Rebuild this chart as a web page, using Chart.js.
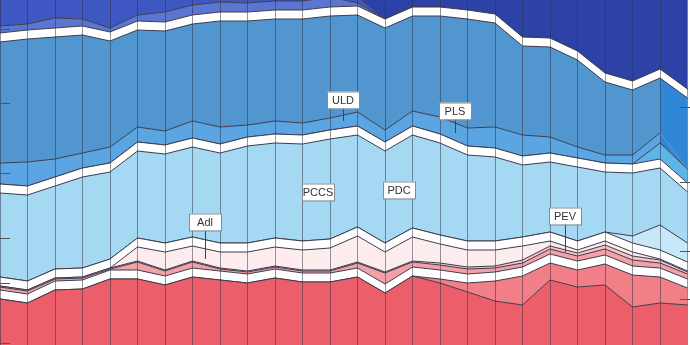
<!DOCTYPE html>
<html>
<head>
<meta charset="utf-8">
<script src="https://cdn.jsdelivr.net/npm/chart.js@4.4.1/dist/chart.umd.min.js"></script>
<style>
  html, body { margin: 0; padding: 0; background: #fff; }
  #wrap { width: 690px; height: 345px; }
</style>
</head>
<body>
<div id="wrap"><canvas id="c"></canvas></div>
<script>
// elections, left to right (evenly spaced)
const elections = [1, 2, 3, 4, 5, 6, 7, 8, 9, 10, 11, 12, 13, 14, 15, 16, 17, 18, 19, 20, 21, 22, 23, 24, 25, 26];

// stacked shares, bottom to top (the crop shows only part of the range)
const red     = [9.2, 8.4, 11.0, 11.2, 13.2, 13.2, 12.0, 13.6, 13.0, 12.4, 13.4, 12.6, 12.6, 13.6, 10.4, 13.8, 12.4, 10.6, 8.8, 8.0, 13.0, 11.6, 12.0, 7.6, 8.4, 8.0];
const salmon  = [0, 0, 0, 0, 0, 0, 0, 0, 0, 0, 0, 0, 0, 0, 0, 0, 0.8, 1.8, 4.0, 5.8, 3.4, 3.4, 4.2, 6.4, 5.2, 3.4];
const gap     = [1.8, 1.8, 1.8, 1.8, 1.8, 1.8, 1.8, 1.8, 1.8, 1.8, 1.8, 1.8, 1.8, 1.8, 1.8, 1.8, 1.8, 1.8, 1.8, 1.8, 1.8, 1.8, 1.8, 1.8, 1.8, 1.8];
const pink    = [0.6, 0.6, 0.4, 0.4, 0.2, 1.6, 1.0, 1.2, 0.4, 0.4, 0.4, 0.4, 0.4, 1.0, 2.2, 1.0, 1.0, 1.0, 0.8, 0.8, 1.0, 1.0, 1.2, 1.2, 1.0, 1.0];
const pev     = [0.2, 0.2, 0.2, 0.2, 0.2, 0.2, 0.2, 0.2, 0.2, 0.2, 0.2, 0.2, 0.2, 0.2, 0.2, 0.2, 0.4, 0.4, 0.4, 0.6, 0.6, 0.6, 0.8, 0.8, 0.6, 0.4];
const adl     = [0, 0, 0, 0, 0, 2.8, 3.6, 3.0, 3.2, 3.8, 3.8, 4.0, 4.4, 5.2, 4.0, 4.8, 3.8, 3.4, 3.2, 2.8, 1.0, 0.6, 0.8, 0.8, 0.2, 0.2];
const vlight  = [0, 0, 0, 0, 0, 0, 0, 0, 0, 0, 0, 0, 0, 0, 0, 0, 0, 0, 0, 0, 0, 0, 0, 1.4, 5.0, 3.8];
const pccs    = [16.8, 17.2, 16.6, 18.2, 17.4, 17.4, 17.8, 18.0, 18.0, 19.4, 19.0, 19.4, 20.0, 18.4, 18.4, 18.6, 18.4, 17.2, 16.8, 14.4, 14.0, 14.8, 12.0, 12.6, 11.4, 10.2];
const teal    = [0, 0, 0, 0, 0, 0, 0, 0, 0, 0, 0, 0, 0, 0, 0, 0, 0, 0, 0, 0, 0, 0, 0, 0, 3.2, 2.8];
const pls     = [4.2, 4.8, 3.6, 3.0, 3.2, 3.0, 2.8, 3.4, 3.4, 2.4, 2.6, 2.4, 2.4, 2.8, 2.4, 3.0, 3.4, 3.6, 4.2, 4.2, 3.2, 2.2, 1.6, 1.8, 2.0, 0];
const uld     = [24.2, 24.6, 24.4, 23.6, 21.2, 19.4, 20.0, 19.4, 21.2, 20.8, 20.4, 20.8, 20.4, 19.4, 20.4, 19.0, 20.2, 21.8, 20.8, 17.8, 18.0, 17.4, 14.6, 13.0, 11.0, 14.2];
const indigo  = [1.4, 1.2, 2.0, 1.4, 0.8, 1.2, 2.0, 2.0, 2.0, 1.8, 1.8, 1.8, 2.0, 0.6, 0, 0, 0, 0, 0, 0, 0, 0, 0, 0, 0, 0];
const navy    = [12, 12, 12, 12, 12, 12, 12, 12, 12, 12, 12, 12, 12, 1.2, 0, 0, 0, 0, 0, 0, 0, 0, 0, 0, 0, 0];
const dark    = [20, 20, 20, 20, 20, 20, 20, 20, 20, 20, 20, 20, 20, 20, 20, 20, 20, 20, 20, 20, 20, 20, 20, 20, 20, 20];

// in-chart labels
const labelNames = ['ULD', 'PLS', 'PCCS', 'PDC', 'PEV', 'Adl'];
const labelX     = [13.47, 17.53, 12.55, 15.51, 21.55, 8.45];
const labelY     = [49.0, 46.7, 30.6, 31.0, 25.8, 24.6];
const leaderY    = [44.8, 42.4, null, null, 18.6, 17.2];

// short leader ticks at the cropped edges
const leftMarks  = [63.2, 48.4, 34.4, 21.4, 12.4, 0.4];
const rightMarks = [47.6, 32.6, 18.8, 9.2];

const LINE = '#3c3c4c';
const LAST = elections.length - 2;
const lastBlue = c => c.p0DataIndex === LAST ? '#2f87d5' : undefined;

const layers = [
  { data: red, color: '#ec5e6a' },
  { data: salmon, color: '#f27f88' },
  { data: gap, color: '#ffffff' },
  { data: pink, color: '#f4a0a7' },
  { data: pev, color: '#f8c3c7' },
  { data: adl, color: '#fdecee' },
  { data: gap, color: '#ffffff' },
  { data: vlight, color: '#c7e8f9' },
  { data: pccs, color: '#a4d8f3' },
  { data: gap, color: '#ffffff' },
  { data: teal, color: '#5bb5e5' },
  { data: pls, color: '#5ba6e2', segment: { backgroundColor: lastBlue, borderColor: c => c.p0DataIndex === LAST ? 'rgba(0,0,0,0)' : undefined } },
  { data: uld, color: '#5296d0', segment: { backgroundColor: lastBlue } },
  { data: gap, color: '#ffffff' },
  { data: indigo, color: '#5a76d0' },
  { data: navy, color: '#3e57c2' },
  { data: dark, color: '#2d42a7' },
];

const edgeMarks = {
  id: 'edgeMarks',
  afterDraw(chart) {
    const { ctx, chartArea: a, scales: { y } } = chart;
    ctx.save();
    ctx.strokeStyle = '#555';
    ctx.lineWidth = 1;
    ctx.beginPath();
    leftMarks.forEach(v => {
      const py = Math.round(y.getPixelForValue(v)) + 0.5;
      ctx.moveTo(a.left, py); ctx.lineTo(a.left + 10, py);
    });
    rightMarks.forEach(v => {
      const py = Math.round(y.getPixelForValue(v)) + 0.5;
      ctx.moveTo(a.right - 10, py); ctx.lineTo(a.right, py);
    });
    ctx.stroke();
    ctx.restore();
  }
};

const partyLabels = {
  id: 'partyLabels',
  afterDraw(chart) {
    const { ctx, scales: { x, y } } = chart;
    ctx.save();
    ctx.font = '11px "Liberation Sans", Arial, sans-serif';
    ctx.textAlign = 'center';
    ctx.textBaseline = 'middle';
    ctx.lineWidth = 1;
    labelNames.forEach((name, i) => {
      const px = Math.round(x.getPixelForValue(labelX[i]));
      const py = Math.round(y.getPixelForValue(labelY[i]));
      const w = 32, h = 17;
      if (leaderY[i] !== null) {
        ctx.strokeStyle = '#444';
        ctx.beginPath();
        ctx.moveTo(px + 0.5, py);
        ctx.lineTo(px + 0.5, y.getPixelForValue(leaderY[i]));
        ctx.stroke();
      }
      ctx.fillStyle = '#fff';
      ctx.fillRect(px - w / 2, py - h / 2, w, h);
      ctx.strokeStyle = '#8a8a8a';
      ctx.strokeRect(px - w / 2 + 0.5, py - h / 2 + 0.5, w, h);
      ctx.fillStyle = '#333';
      ctx.fillText(name, px, py + 1);
    });
    ctx.restore();
  }
};

new Chart(document.getElementById('c'), {
  type: 'line',
  data: {
    labels: elections,
    datasets: layers.map((l, i) => ({
      data: l.data,
      backgroundColor: l.color,
      borderColor: LINE,
      borderWidth: 1,
      fill: i === 0 ? 'origin' : '-1',
      pointRadius: 0,
      tension: 0,
      segment: l.segment,
    })),
  },
  options: {
    responsive: true,
    maintainAspectRatio: false,
    animation: false,
    layout: { padding: 0 },
    plugins: { legend: { display: false }, tooltip: { enabled: false } },
    scales: {
      x: {
        type: 'linear',
        min: 1,
        max: 26.09,
        afterBuildTicks: s => { s.ticks = elections.map(v => ({ value: v })); },
        ticks: { display: false },
        grid: { color: 'rgba(45,45,65,0.5)', drawTicks: false, z: 1 },
        border: { display: false },
      },
      y: { stacked: true, min: 0, max: 69, display: false },
    },
  },
  plugins: [edgeMarks, partyLabels],
});
</script>
</body>
</html>
